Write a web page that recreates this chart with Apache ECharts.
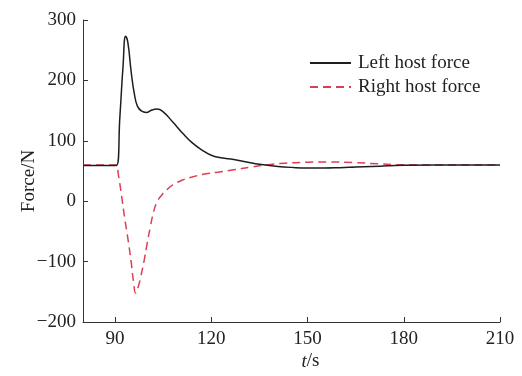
<!DOCTYPE html>
<html>
<head>
<meta charset="UTF-8">
<title>Host force</title>
<script src="https://cdn.jsdelivr.net/npm/echarts@6/dist/echarts.min.js"></script>
<style>
  html, body { margin: 0; padding: 0; background: #fff; }
  #main { width: 522px; height: 376px; }
</style>
</head>
<body>
<div id="main"></div>
<script>
// time (s) and force (N)
var leftT = [80, 90.4, 91.5, 92.5, 93.3, 94, 95, 96, 97, 98.3, 99.7, 101.5, 103, 105, 108, 111, 114, 117, 120, 123, 127, 131, 135, 140, 145, 150, 155, 160, 165, 170, 175, 180, 190, 200, 210];
var leftF = [59, 59, 140, 225, 273, 262, 215, 178, 157, 149, 147, 151, 152.5, 148, 131, 113, 97, 85, 76, 72, 69, 65, 61, 58, 56, 55, 55, 55.5, 56.5, 57.5, 58.5, 59.5, 60, 60, 60];

var rightT = [80, 90.4, 91, 92, 93, 94, 95, 95.8, 96.4, 97.2, 98, 99, 100, 101, 102, 103, 104.5, 106, 108, 111, 114, 118, 122, 127, 132, 137, 143, 150, 157, 164, 172, 180, 190, 210];
var rightF = [60, 60, 45, 10, -28, -62, -100, -135, -152, -142, -125, -100, -70, -42, -18, -2, 10, 18, 27, 35, 40, 45, 48, 52, 56, 60, 63, 64.5, 65, 64, 62, 60.3, 60, 60];

var xTicks = [90, 120, 150, 180, 210];

function pairs(xs, ys) {
    return xs.map(function (x, i) { return [x, ys[i]]; });
}

var font = "'Liberation Serif', 'Times New Roman', serif";
var chart = echarts.init(document.getElementById('main'));

var option = {
    animation: false,
    backgroundColor: '#fff',
    textStyle: { fontFamily: font },
    grid: { left: 83, right: 22, top: 20, bottom: 50 },
    legend: {
        orient: 'vertical',
        left: 309,
        top: 52,
        padding: 0,
        itemWidth: 41,
        itemHeight: 14,
        itemGap: 2,
        itemStyle: { opacity: 0 },
        textStyle: { fontFamily: font, fontSize: 19, lineHeight: 22, color: '#222', padding: [0, 0, 0, 2] },
        data: ['Left host force', 'Right host force']
    },
    xAxis: {
        type: 'value',
        min: 80,
        max: 210,
        name: '{i|t}/s',
        nameLocation: 'middle',
        nameGap: 30,
        nameMoveOverlap: false,
        nameTextStyle: {
            fontFamily: font, fontSize: 19, color: '#222',
            padding: [0, 0, 0, 38],
            rich: { i: { fontStyle: 'italic', fontFamily: font, fontSize: 19, color: '#222' } }
        },
        splitLine: { show: false },
        axisLine: { onZero: false, lineStyle: { color: '#333', width: 1 } },
        axisTick: { inside: true, length: 5, customValues: xTicks, lineStyle: { color: '#333' } },
        axisLabel: { customValues: xTicks, margin: 8, fontFamily: font, fontSize: 19, color: '#222' }
    },
    yAxis: {
        type: 'value',
        min: -200,
        max: 300,
        interval: 100,
        name: 'Force/N',
        nameLocation: 'middle',
        nameGap: 44,
        nameMoveOverlap: false,
        nameTextStyle: { fontFamily: font, fontSize: 19, color: '#222', padding: [0, 20, 0, 0] },
        splitLine: { show: false },
        axisLine: { show: true, onZero: false, lineStyle: { color: '#333', width: 1 } },
        axisTick: { show: true, inside: true, length: 5, lineStyle: { color: '#333' } },
        axisLabel: {
            margin: 7, fontFamily: font, fontSize: 19, color: '#222',
            formatter: function (v) { return String(v).replace('-', '\u2212'); }
        }
    },
    series: [
        {
            name: 'Left host force',
            type: 'line',
            symbol: 'none',
            smooth: 0.5,
            lineStyle: { color: '#1e1e1e', width: 1.5 },
            itemStyle: { color: '#1e1e1e' },
            data: pairs(leftT, leftF),
            z: 3
        },
        {
            name: 'Right host force',
            type: 'line',
            symbol: 'none',
            smooth: 0.5,
            lineStyle: { color: '#dc3f55', width: 1.5, type: [8, 5] },
            itemStyle: { color: '#dc3f55' },
            data: pairs(rightT, rightF),
            z: 2
        }
    ]
};

chart.setOption(option);
</script>
</body>
</html>
